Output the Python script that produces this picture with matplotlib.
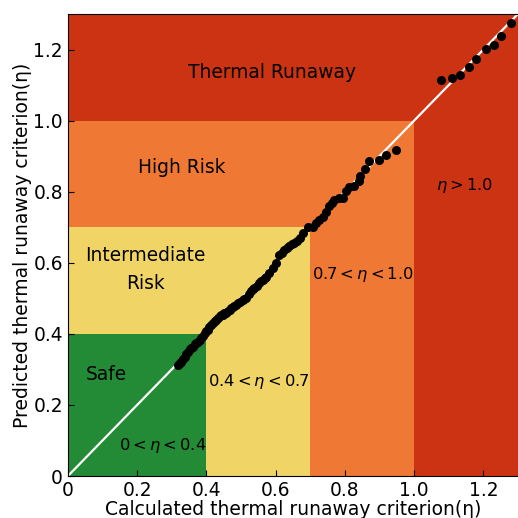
import matplotlib.pyplot as plt
from matplotlib.patches import Rectangle

# risk zones: upper bound of each square zone, drawn from largest to smallest
zone_bounds = [1.3, 1.0, 0.7, 0.4]
zone_colors = ['#cc3312', '#ef7834', '#f0d466', '#238a35']

calc = [0.317, 0.323, 0.328, 0.332, 0.337, 0.342, 0.347, 0.352, 0.356, 0.361, 0.366,
        0.371, 0.376, 0.381, 0.385, 0.390, 0.395, 0.400, 0.404, 0.409, 0.414, 0.419,
        0.424, 0.428, 0.433, 0.438, 0.443, 0.448, 0.452, 0.457, 0.462, 0.467, 0.472,
        0.476, 0.481, 0.486, 0.491, 0.498, 0.505, 0.510, 0.515, 0.522, 0.529, 0.534,
        0.539, 0.546, 0.553, 0.558, 0.563, 0.568, 0.573, 0.582, 0.592, 0.600, 0.611,
        0.618, 0.625, 0.632, 0.640, 0.647, 0.654, 0.662, 0.669, 0.680, 0.693, 0.707,
        0.717, 0.726, 0.736, 0.745, 0.755, 0.762, 0.770, 0.782, 0.795, 0.803, 0.813,
        0.827, 0.840, 0.844, 0.858, 0.870, 0.899, 0.920, 0.949,
        1.077, 1.110, 1.132, 1.159, 1.178, 1.208, 1.231, 1.250, 1.279]
pred = [0.313, 0.318, 0.322, 0.329, 0.336, 0.343, 0.350, 0.357, 0.360, 0.364, 0.371,
        0.374, 0.378, 0.383, 0.388, 0.395, 0.402, 0.407, 0.411, 0.418, 0.424, 0.430,
        0.435, 0.440, 0.444, 0.449, 0.452, 0.454, 0.458, 0.460, 0.463, 0.468, 0.472,
        0.475, 0.478, 0.482, 0.486, 0.490, 0.494, 0.498, 0.501, 0.512, 0.522, 0.526,
        0.529, 0.536, 0.543, 0.548, 0.552, 0.556, 0.561, 0.571, 0.585, 0.600, 0.623,
        0.628, 0.637, 0.641, 0.648, 0.652, 0.657, 0.661, 0.670, 0.685, 0.700, 0.700,
        0.712, 0.721, 0.730, 0.742, 0.759, 0.768, 0.777, 0.782, 0.782, 0.801, 0.813,
        0.815, 0.829, 0.845, 0.864, 0.885, 0.890, 0.904, 0.918,
        1.114, 1.120, 1.127, 1.151, 1.174, 1.202, 1.214, 1.238, 1.275]

zone_labels = ['Thermal Runaway', 'High Risk', 'Intermediate\nRisk', 'Safe']
zone_label_pos = [(0.591, 1.135), (0.329, 0.868), (0.225, 0.58), (0.11, 0.285)]
range_labels = [r'$0 < \eta < 0.4$', r'$0.4 < \eta < 0.7$', r'$0.7 < \eta < 1.0$', r'$\eta > 1.0$']
range_label_pos = [(0.274, 0.085), (0.55, 0.265), (0.853, 0.566), (1.147, 0.817)]

ticks = [0, 0.2, 0.4, 0.6, 0.8, 1.0, 1.2]
tick_labels = ['0', '0.2', '0.4', '0.6', '0.8', '1.0', '1.2']

fig = plt.figure(figsize=(5.18, 5.18), dpi=100)
ax = fig.add_axes([0.131, 0.081, 0.869, 0.892])

for b, c in zip(zone_bounds, zone_colors):
    ax.add_patch(Rectangle((0, 0), b, b, facecolor=c, edgecolor='none', zorder=0))

ax.plot([0, 1.3], [0, 1.3], color='white', lw=1.6, zorder=1)
ax.scatter(calc, pred, s=30, color='black', zorder=2)

for t, (x, y) in zip(zone_labels, zone_label_pos):
    ax.text(x, y, t, fontsize=13.4, ha='center', va='center', linespacing=1.6)
for t, (x, y) in zip(range_labels, range_label_pos):
    ax.text(x, y, t, fontsize=11.7, ha='center', va='center')

ax.set_xlim(0, 1.3)
ax.set_ylim(0, 1.3)
ax.set_xticks(ticks)
ax.set_xticklabels(tick_labels)
ax.set_yticks(ticks)
ax.set_yticklabels(tick_labels)
ax.tick_params(direction='in', labelsize=13.4, length=4)
ax.set_xlabel('Calculated thermal runaway criterion(η)', fontsize=13.5, labelpad=0)
ax.set_ylabel('Predicted thermal runaway criterion(η)', fontsize=13.5, labelpad=1)

fig.savefig('out.png', dpi=100)
